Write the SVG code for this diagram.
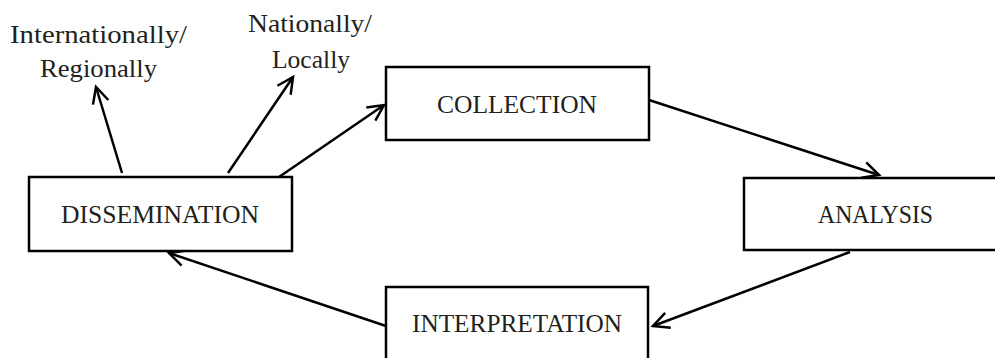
<svg xmlns="http://www.w3.org/2000/svg" width="995" height="358" viewBox="0 0 995 358">
<style>
.box{fill:#fff;stroke:#000;stroke-width:2.5}
.lbl{font-family:"Liberation Serif","DejaVu Serif",serif;font-size:26px;fill:#231f20;text-anchor:middle}
.conn{stroke:#000;stroke-width:2.5;fill:none;marker-end:url(#arr)}
</style>
<defs>
<marker id="arr" markerUnits="userSpaceOnUse" markerWidth="30" markerHeight="30" viewBox="-20 -15 30 30" refX="0" refY="0" orient="auto">
<path d="M-16,-8 L0,0 L-16,8" fill="none" stroke="#000" stroke-width="2.5"/>
</marker>
</defs>
<rect width="995" height="358" fill="#fff"/>
<g id="connectors">
<line class="conn" x1="279" y1="177" x2="384" y2="105"/>
<line class="conn" x1="228" y1="173" x2="293" y2="77"/>
<line class="conn" x1="122" y1="173" x2="96" y2="87"/>
<line class="conn" x1="649" y1="100" x2="879" y2="175"/>
<line class="conn" x1="850" y1="252" x2="653" y2="326"/>
<line class="conn" x1="386" y1="326" x2="169" y2="253"/>
</g>
<g id="collection">
<rect class="box" x="386" y="67" width="263" height="73"/>
<text class="lbl" x="517" y="113" textLength="160" lengthAdjust="spacingAndGlyphs">COLLECTION</text>
</g>
<g id="dissemination">
<rect class="box" x="29" y="177" width="263" height="74"/>
<text class="lbl" x="160" y="223" textLength="198" lengthAdjust="spacingAndGlyphs">DISSEMINATION</text>
</g>
<g id="analysis">
<rect class="box" x="744" y="178" width="262" height="72"/>
<text class="lbl" x="875.5" y="223" textLength="115" lengthAdjust="spacingAndGlyphs">ANALYSIS</text>
</g>
<g id="interpretation">
<rect class="box" x="386" y="287" width="262" height="82"/>
<text class="lbl" x="517" y="332" textLength="210" lengthAdjust="spacingAndGlyphs">INTERPRETATION</text>
</g>
<g id="international">
<text class="lbl" x="98.5" y="43" textLength="177" lengthAdjust="spacingAndGlyphs">Internationally/</text>
<text class="lbl" x="98.5" y="77" textLength="117" lengthAdjust="spacingAndGlyphs">Regionally</text>
</g>
<g id="national">
<text class="lbl" x="310" y="32" textLength="124" lengthAdjust="spacingAndGlyphs">Nationally/</text>
<text class="lbl" x="311" y="68" textLength="78" lengthAdjust="spacingAndGlyphs">Locally</text>
</g>
</svg>
